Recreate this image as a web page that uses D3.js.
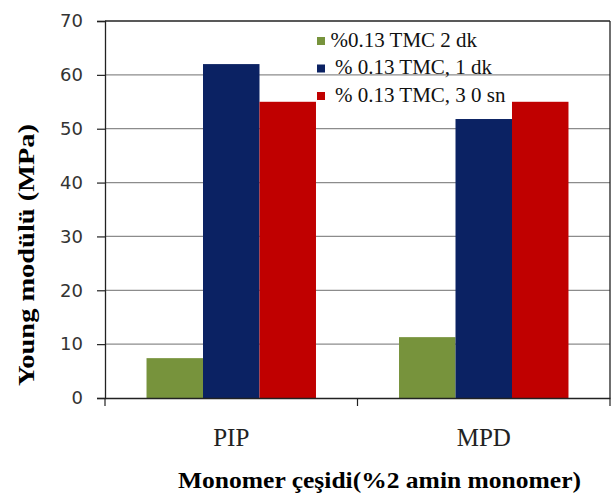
<!DOCTYPE html>
<html><head><meta charset="utf-8">
<script src="https://cdn.jsdelivr.net/npm/d3@7"></script>
<style>body{margin:0;background:#fff}svg{display:block}</style>
</head><body>
<svg id="c" width="616" height="493"></svg>
<script>
const categories = ["PIP", "MPD"];
const seriesNames = ["%0.13 TMC 2 dk", "% 0.13 TMC, 1 dk", "% 0.13 TMC, 3 0 sn"];
const seriesColors = ["#77933c", "#0b2263", "#c00000"];
const valuesPIP = [7.4, 62, 55];
const valuesMPD = [11.3, 51.8, 55];
const yTicks = [0, 10, 20, 30, 40, 50, 60, 70];
const yTitle = "Young modülü (MPa)";
const xTitle = "Monomer çeşidi(%2 amin monomer)";

const data = [valuesPIP, valuesMPD];
const L = 105, R = 610, T = 21, B = 398;
const svg = d3.select("#c");

const x0 = d3.scaleBand().domain(categories).range([L, R]).padding(0);
const x1 = d3.scaleBand().domain(d3.range(seriesNames.length)).range([0, x0.bandwidth()]).paddingInner(0).paddingOuter(0.735);
const y = d3.scaleLinear().domain([0, 70]).range([B, T]);

// gridlines
svg.append("g").selectAll("line").data(yTicks.filter(d => d > 0 && d < 70)).join("line")
  .attr("x1", L).attr("x2", R).attr("y1", d => y(d)).attr("y2", d => y(d))
  .attr("stroke", "#8c8c8c").attr("stroke-width", 1.2);

// bars
const g = svg.append("g").selectAll("g").data(categories).join("g")
  .attr("transform", c => `translate(${x0(c)},0)`);
g.selectAll("rect").data((c, i) => data[i].map((v, j) => ({v, j}))).join("rect")
  .attr("x", d => x1(d.j)).attr("width", x1.bandwidth())
  .attr("y", d => y(d.v)).attr("height", d => B - y(d.v))
  .attr("fill", d => seriesColors[d.j]);

// frame top/right
svg.append("line").attr("x1", L).attr("x2", R).attr("y1", T).attr("y2", T).attr("stroke", "#222").attr("stroke-width", 1.3);
svg.append("line").attr("x1", R).attr("x2", R).attr("y1", T).attr("y2", B).attr("stroke", "#222").attr("stroke-width", 1.3);

// y axis
const ya = svg.append("g").attr("transform", `translate(${L},0)`)
  .call(d3.axisLeft(y).tickValues(yTicks).tickSizeOuter(0).tickSize(8).tickPadding(14));
ya.select(".domain").attr("stroke", "#222").attr("stroke-width", 1.3);
ya.selectAll(".tick line").attr("stroke", "#222").attr("stroke-width", 1.2);
ya.selectAll("text").attr("font-family", "DejaVu Sans, sans-serif").attr("font-size", 18).attr("fill", "#333");

// x axis
const xa = svg.append("g").attr("transform", `translate(0,${B})`)
  .call(d3.axisBottom(x0).tickSize(0).tickSizeOuter(0).tickPadding(30));
xa.select(".domain").attr("stroke", "#222").attr("stroke-width", 1.3);
xa.selectAll("text").attr("font-family", "Liberation Serif, serif").attr("font-size", 25).attr("fill", "#222");
// category boundary ticks
svg.append("g").selectAll("line").data([...categories.map(c => x0(c)), R]).join("line")
  .attr("x1", d => d).attr("x2", d => d).attr("y1", B).attr("y2", B + 8)
  .attr("stroke", "#222").attr("stroke-width", 1.2);

// titles
svg.append("text").attr("transform", "translate(34,255) rotate(-90)")
  .attr("text-anchor", "middle").attr("font-family", "Liberation Serif, serif")
  .attr("font-weight", "bold").attr("font-size", 24)
  .attr("textLength", 262).attr("lengthAdjust", "spacingAndGlyphs").text(yTitle);
svg.append("text").attr("x", 379.5).attr("y", 488)
  .attr("text-anchor", "middle").attr("font-family", "Liberation Serif, serif")
  .attr("font-weight", "bold").attr("font-size", 24)
  .attr("textLength", 403).attr("lengthAdjust", "spacingAndGlyphs").text(xTitle);

// legend
const lg = svg.append("g").selectAll("g").data(seriesNames).join("g")
  .attr("transform", (d, i) => `translate(317,${41 + i * 27.5})`);
lg.append("rect").attr("x", 0).attr("y", -4).attr("width", 8).attr("height", 8)
  .attr("fill", (d, i) => seriesColors[i]);
lg.append("text").attr("x", (d, i) => i === 0 ? 13.5 : 18).attr("y", 5.5).attr("font-family", "Liberation Serif, serif")
  .attr("font-size", 21).attr("fill", "#111").text(d => d);
</script>
</body></html>
